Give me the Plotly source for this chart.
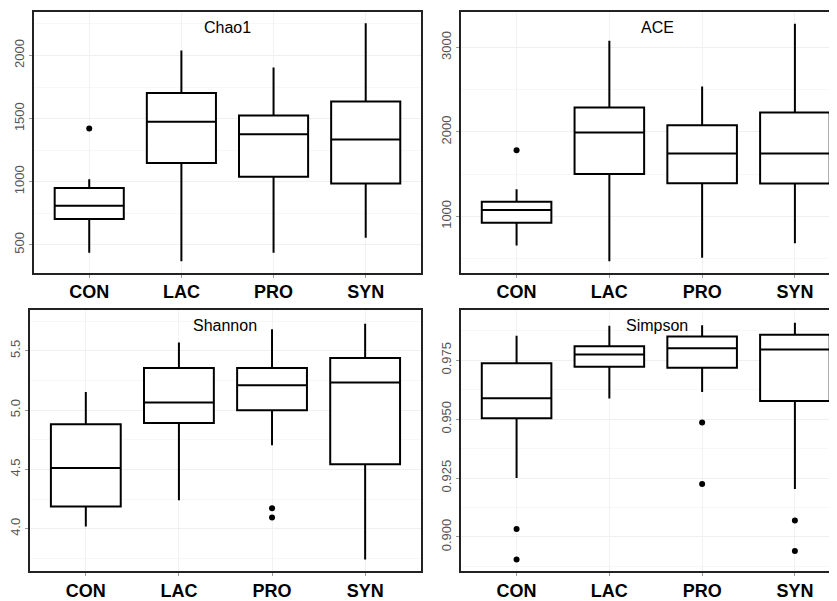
import plotly.graph_objects as go

categories = ["CON", "LAC", "PRO", "SYN"]
panel_titles = ["Chao1", "ACE", "Shannon", "Simpson"]

chao1_lower = [437, 369, 437, 555]
chao1_q1 = [705, 1149, 1039, 986]
chao1_median = [810, 1475, 1375, 1335]
chao1_q3 = [949, 1703, 1525, 1635]
chao1_upper = [1020, 2039, 1905, 2255]
chao1_out_x = ["CON"]
chao1_out_y = [1422]

ace_lower = [655, 467, 510, 682]
ace_q1 = [925, 1502, 1392, 1388]
ace_median = [1075, 1992, 1745, 1745]
ace_q3 = [1173, 2290, 2078, 2231]
ace_upper = [1322, 3078, 2537, 3282]
ace_out_x = ["CON"]
ace_out_y = [1784]

shannon_lower = [4.020, 4.240, 4.703, 3.741]
shannon_q1 = [4.187, 4.892, 4.998, 4.544]
shannon_median = [4.513, 5.065, 5.210, 5.232]
shannon_q3 = [4.881, 5.355, 5.355, 5.439]
shannon_upper = [5.152, 5.570, 5.681, 5.729]
shannon_out_x = ["PRO", "PRO"]
shannon_out_y = [4.173, 4.095]

simpson_lower = [0.9250, 0.9587, 0.9615, 0.9204]
simpson_q1 = [0.9504, 0.9722, 0.9718, 0.9577]
simpson_median = [0.9588, 0.9774, 0.9801, 0.9795]
simpson_q3 = [0.9737, 0.9809, 0.9851, 0.9858]
simpson_upper = [0.9854, 0.9896, 0.9898, 0.9909]
simpson_out_x = ["CON", "CON", "PRO", "PRO", "SYN", "SYN"]
simpson_out_y = [0.9034, 0.8904, 0.9486, 0.9225, 0.9070, 0.8940]

panels = [
    (chao1_lower, chao1_q1, chao1_median, chao1_q3, chao1_upper, chao1_out_x, chao1_out_y),
    (ace_lower, ace_q1, ace_median, ace_q3, ace_upper, ace_out_x, ace_out_y),
    (shannon_lower, shannon_q1, shannon_median, shannon_q3, shannon_upper, shannon_out_x, shannon_out_y),
    (simpson_lower, simpson_q1, simpson_median, simpson_q3, simpson_upper, simpson_out_x, simpson_out_y),
]

OFF = 8  # default page body margin
W, H = 837 - OFF, 601 - OFF
# target screen pixel boxes: (left, right, top, bottom)
boxes = [(32, 420, 12, 274), (460, 837, 12, 274), (28, 420, 312, 574), (460, 837, 312, 574)]
yranges = [[279, 2345], [333, 3420], [3.643, 5.84], [0.8855, 0.9961]]
dticks = [500, 1000, 0.5, 0.025]
fmts = ["d", "d", ".1f", ".3f"]

fig = go.Figure()
FONT = "Liberation Sans, Arial, sans-serif"

for i, (lo, q1, med, q3, up, ox, oy) in enumerate(panels):
    n = i + 1
    xa = "x" if n == 1 else f"x{n}"
    ya = "y" if n == 1 else f"y{n}"
    fig.add_trace(go.Box(
        x=categories, lowerfence=lo, q1=q1, median=med, q3=q3, upperfence=up,
        xaxis=xa, yaxis=ya, width=0.75, whiskerwidth=0,
        fillcolor="white", line=dict(color="black", width=2),
        boxpoints=False, showlegend=False, hoverinfo="skip",
    ))
    fig.add_trace(go.Scatter(
        x=ox, y=oy, mode="markers", xaxis=xa, yaxis=ya,
        marker=dict(color="black", size=6), showlegend=False, hoverinfo="skip",
    ))
    l, r, t, b = boxes[i]
    right_panel = n in (2, 4)
    right_px = 460 + 4.2 * 93 if right_panel else r
    xr1 = -0.6 + (r - l) / (right_px - l) * 4.2
    fig.layout[f"xaxis{'' if n == 1 else n}"] = dict(
        domain=[(l - OFF) / W, min(1.0, (r - OFF) / W)], anchor=ya, type="category",
        categoryorder="array", categoryarray=categories,
        range=[-0.6, xr1], showline=True, linecolor="#222222", linewidth=2,
        mirror=True, showgrid=True, gridcolor="#f2f2f2", gridwidth=1,
        ticks="outside", ticklen=3, tickcolor="#999999",
        ticklabelstandoff=-1,
        tickfont=dict(family=FONT, size=18, color="black", weight="bold"),
        zeroline=False, fixedrange=True,
    )
    fig.layout[f"yaxis{'' if n == 1 else n}"] = dict(
        domain=[1 - (b - OFF) / H, 1 - (t - OFF) / H], anchor=xa, range=yranges[i],
        dtick=dticks[i], tick0=0, tickformat=fmts[i], tickangle=-90,
        showline=True, linecolor="#222222", linewidth=2,
        mirror=not right_panel,
        showgrid=True, gridcolor="#f0f0f0", gridwidth=1,
        minor=dict(showgrid=True, gridcolor="#f7f7f7", dtick=dticks[i] / 2),
        ticks="outside", ticklen=3, tickcolor="#999999",
        tickfont=dict(family=FONT, size=13, color="#555555"),
        zeroline=False, fixedrange=True,
    )
    fig.add_annotation(
        text=panel_titles[i], xref=f"{xa} domain", yref=f"{ya} domain",
        x=0.5 if not right_panel else (657 - l) / (r - l), y=1, yanchor="top", xanchor="center",
        yshift=-5, showarrow=False,
        font=dict(family=FONT, size=16, color="black"),
    )

fig.update_layout(
    width=W, height=H, margin=dict(l=0, r=0, t=0, b=0),
    paper_bgcolor="white", plot_bgcolor="white",
)

fig.write_html("out.html")
